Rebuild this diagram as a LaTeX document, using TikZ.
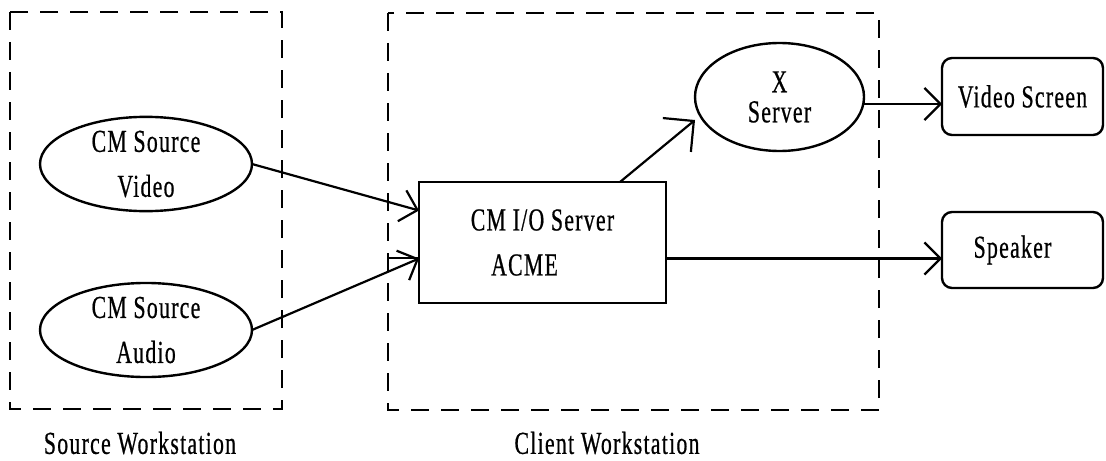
\documentclass[tikz,border=0pt]{standalone}
\usepackage{fontspec}
\setmainfont{Liberation Serif}[FakeStretch=0.68,FakeBold=0.6,LetterSpace=4]
\usetikzlibrary{shapes.geometric,arrows.meta}
\begin{document}
\begin{tikzpicture}[x=0.5pt,y=-0.5pt,
  every node/.style={inner sep=0pt,outer sep=0pt},
  txt/.style={font=\fontsize{16}{22.5}\selectfont,align=center},
  oval/.style={txt,ellipse,draw,line width=1.2pt},
  block/.style={txt,rectangle,draw,line width=1.2pt},
  device/.style={txt,rectangle,draw,line width=1.2pt,rounded corners=5pt,
    minimum width=80.5pt},
  group/.style={draw,line width=0.7pt,dash pattern=on 9pt off 6pt},
  flow/.style={line width=1.1pt,-{Straight Barb[length=8pt,width=16pt,line width=1.1pt]}},
  bigflow/.style={line width=1.1pt,-{Straight Barb[length=11pt,width=22pt,line width=1.1pt]}},
  caption/.style={font=\fontsize{16}{18}\selectfont}]
\useasboundingbox (0,0) rectangle (1106,460);

% workstation groups
\draw[group] (10,12) rectangle (282,409);
\draw[group] (388,13) rectangle (879,410);
\node[caption] (srcws) at (140,443) {Source Workstation};
\node[caption] (cliws) at (607,443) {Client Workstation};

% nodes
\node[oval,minimum width=106pt,minimum height=46.5pt] (vid) at (146,164)
  {CM Source\\Video};
\node[oval,minimum width=106pt,minimum height=43pt] (aud) at (146,330)
  {CM Source\\Audio};
\node[block,minimum width=123.5pt,minimum height=60.5pt] (io) at (542.5,242.5)
  {CM I/O Server\\ACME\hspace*{18pt}};
\node[oval,minimum width=84.5pt,minimum height=54pt,
  font=\fontsize{16}{15}\selectfont] (xs) at (779.5,97) {X\\Server};
\node[device,minimum height=38.5pt] (scr) at (1022.5,96.5) {Video Screen};
\node[device,minimum height=38pt] (spk) at (1022.5,250) {Speaker\hspace*{10pt}};

% connectors
\draw[flow] (vid.east) -- ([yshift=16pt]io.west);
\draw[flow] (aud.east) -- ([yshift=-8pt]io.west);
\coordinate (stub) at (388,258);
\draw[line width=1.1pt] (stub) -- (stub -| io.west);
\draw[bigflow] ([xshift=38.75pt]io.north) -- ([yshift=-11.5pt]xs.west);
\draw[flow] ([yshift=-3.5pt]xs.east) -- ([yshift=-3.5pt]xs.east -| scr.west);
\draw[flow] ([yshift=-8pt]io.east) -- ([yshift=-8pt]io.east -| spk.west);
\end{tikzpicture}
\end{document}
